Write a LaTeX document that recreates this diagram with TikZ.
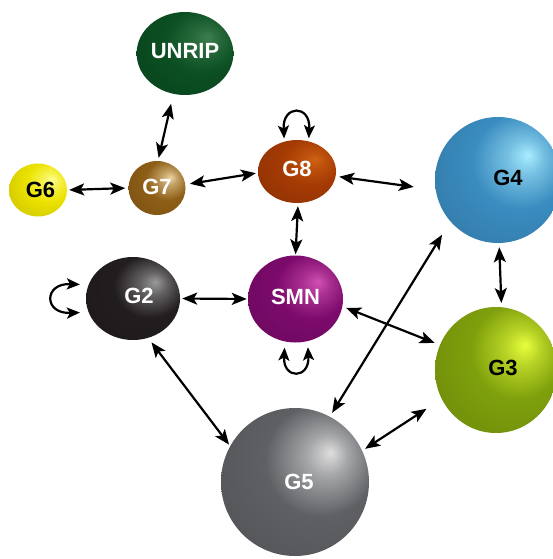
\documentclass[tikz,border=0pt]{standalone}
\usepackage{fontspec}
\setmainfont{Liberation Sans}
\usetikzlibrary{arrows.meta,shapes.geometric}

% glossy sphere: light spot up and to the right, darker rim
\pgfdeclareradialshading[ballbase,ballhi]{sphere}{\pgfqpoint{12bp}{10bp}}{%
  color(0bp)=(ballhi); color(7bp)=(ballhi!55!ballbase); color(19bp)=(ballbase);
  color(42bp)=(ballbase!85!black); color(72bp)=(ballbase!60!black)}

\definecolor{uBase}{HTML}{0B4F22}\definecolor{uHi}{HTML}{3E7E4E}
\definecolor{sixBase}{HTML}{ECE200}\definecolor{sixHi}{HTML}{FFFF90}
\definecolor{sevBase}{HTML}{8E5E16}\definecolor{sevHi}{HTML}{EAD2A0}
\definecolor{eiBase}{HTML}{A43A04}\definecolor{eiHi}{HTML}{D06212}
\definecolor{fourBase}{HTML}{3A8CC0}\definecolor{fourHi}{HTML}{A8ECFF}
\definecolor{twoBase}{HTML}{221D1E}\definecolor{twoHi}{HTML}{9A9A9A}
\definecolor{smnBase}{HTML}{7C0A6C}\definecolor{smnHi}{HTML}{D050B0}
\definecolor{thrBase}{HTML}{7FA00C}\definecolor{thrHi}{HTML}{E8FF3C}
\definecolor{fivBase}{HTML}{5E6064}\definecolor{fivHi}{HTML}{DEDEDE}

\tikzset{
  ball/.style n args={4}{ellipse, inner sep=0pt, minimum width=#1, minimum height=#2,
    /utils/exec={\colorlet{ballbase}{#3}\colorlet{ballhi}{#4}},
    shade, shading=sphere, text depth=5pt,
    font=\fontsize{22}{22}\selectfont\bfseries},
  headA/.tip={Stealth[length=15pt,width=12pt,inset=3.5pt]},
  headB/.tip={Stealth[length=13pt,width=11pt,inset=3pt]},
  link/.style={draw=black, line width=2.2pt, headA-headA},
  selfloop/.style={draw=black, line width=2.2pt, headB-headB},
}

\begin{document}
\begin{tikzpicture}[x=1pt, y=-1pt]
\useasboundingbox (0,0) rectangle (553,559);
\clip (0,0) rectangle (553,559);

% genes and modules
\node[ball={94pt}{83pt}{uBase}{uHi}, text=white] (UNRIP) at (185,53.5) {UNRIP};
\node[ball={58pt}{53pt}{sixBase}{sixHi}, text=black, text depth=1pt] (G6) at (38,190) {\hspace*{5pt}G6};
\node[ball={57pt}{54pt}{sevBase}{sevHi}, text=white, text depth=2pt] (G7) at (157,188) {G7};
\node[ball={78pt}{63pt}{eiBase}{eiHi}, text=white] (G8) at (297,171.5) {G8};
\node[ball={126pt}{126pt}{fourBase}{fourHi}, text=black] (G4) at (498,180) {\hspace*{20pt}G4};
\node[ball={94pt}{83pt}{twoBase}{twoHi}, text=white] (G2) at (133,298.5) {\hspace*{12pt}G2};
\node[ball={95pt}{87pt}{smnBase}{smnHi}, text=white] (SMN) at (295.5,299) {SMN};
\node[ball={122pt}{126pt}{thrBase}{thrHi}, text=black] (G3) at (496,370) {\hspace*{14pt}G3};
\node[ball={148pt}{148pt}{fivBase}{fivHi}, text=white, text depth=0pt] (G5) at (295,482) {\hspace*{8pt}G5};

% interactions
\draw[link, shorten <=2pt, shorten >=3pt] (G6.0) -- (G7.180);
\draw[link, shorten <=3pt, shorten >=10pt] (G7.88) -- (UNRIP.254);
\draw[link, shorten <=4.5pt, shorten >=2pt] (G7.7) -- (G8.182);
\draw[link, shorten <=3.5pt, shorten >=22pt] (G8.-7.5) -- (G4.189);
\draw[link, shorten <=3pt, shorten >=1pt] (G8.-88) -- (SMN.90);
\draw[link, shorten <=2pt, shorten >=1pt] (G2.0) -- (SMN.180);
\draw[link, shorten <=3.8pt, shorten >=5.5pt] (SMN.-9) -- (G3.156);
\draw[link, shorten <=5.5pt, shorten >=1.7pt] (G2.-69) -- (G5.151);
\draw[link, shorten <=3.4pt, shorten >=18pt] (G5.25) -- (G3.208);
\draw[link, shorten <=4.3pt, shorten >=15.6pt] (G5.62) -- (G4.221);
\draw[link, shorten <=4pt, shorten >=4pt] (G4.-89) -- (G3.85);

% self-regulation loops
\draw[selfloop, shorten <=3pt, shorten >=3pt] (G8.113) .. controls +(-2,-37) and +(2,-37) .. (G8.69);
\draw[selfloop, shorten <=8.5pt, shorten >=8.5pt] (G2.163) .. controls +(-45,-2) and +(-45,2) .. (G2.197);
\draw[selfloop, shorten <=6pt, shorten >=6pt] (SMN.-104) .. controls +(-2,38) and +(2,38) .. (SMN.-74);
\end{tikzpicture}
\end{document}
